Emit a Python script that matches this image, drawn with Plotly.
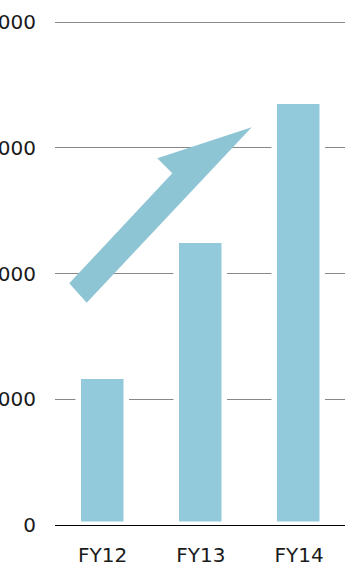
import plotly.graph_objects as go

categories = ["FY12", "FY13", "FY14"]
values = [1180, 2260, 3360]
y_tickvals = [0, 1000, 2000, 3000, 4000]
y_ticktext = ["0", "1000", "2000", "3000", "4000"]

# Decorative arrow outline (pixel offsets from anchor FY12 / 2000, +y up)
arrow_dx = [-33.3, 69.7, 54.7, 149.1, -15.9]
arrow_dy = [-9.8, 100.2, 115.2, 146.2, -29.2]

bar_color = "#92CADB"
arrow_color = "#8EC5D5"
font = dict(family="DejaVu Sans", size=20, color="#1a1a1a")

x_pos = list(range(len(categories)))

fig = go.Figure()
fig.add_trace(go.Bar(
    x=x_pos, y=values, width=0.488,
    marker=dict(color=bar_color, line=dict(color="white", width=5.5)),
    hoverinfo="skip",
))

path = "M " + " L ".join(f"{dx},{dy}" for dx, dy in zip(arrow_dx, arrow_dy)) + " Z"
fig.add_shape(
    type="path", path=path,
    xref="x", yref="y", xsizemode="pixel", ysizemode="pixel",
    xanchor=0, yanchor=2000,
    fillcolor=arrow_color, line=dict(width=0), layer="above",
)

fig.update_layout(
    width=345, height=566,
    margin=dict(l=55, r=0, t=21, b=41),
    paper_bgcolor="white", plot_bgcolor="white",
    showlegend=False, font=font,
    bargap=0,
)
fig.update_xaxes(
    range=[-0.484, 2.466], tickvals=x_pos, ticktext=categories,
    showgrid=False, zeroline=False, showline=True, linecolor="black", linewidth=1,
    ticks="", ticklabelstandoff=12, tickfont=font, fixedrange=True,
)
fig.update_yaxes(
    range=[0, 4008], tickvals=y_tickvals, ticktext=y_ticktext,
    showgrid=True, gridcolor="#888888", gridwidth=1, zeroline=False,
    showline=False, ticks="", ticklabelstandoff=18, tickfont=font,
    automargin=False, fixedrange=True,
)

fig.write_html(
    "out.html",
    config={"displayModeBar": False},
    post_script="document.body.style.margin='0px';document.body.style.overflow='hidden';",
)
